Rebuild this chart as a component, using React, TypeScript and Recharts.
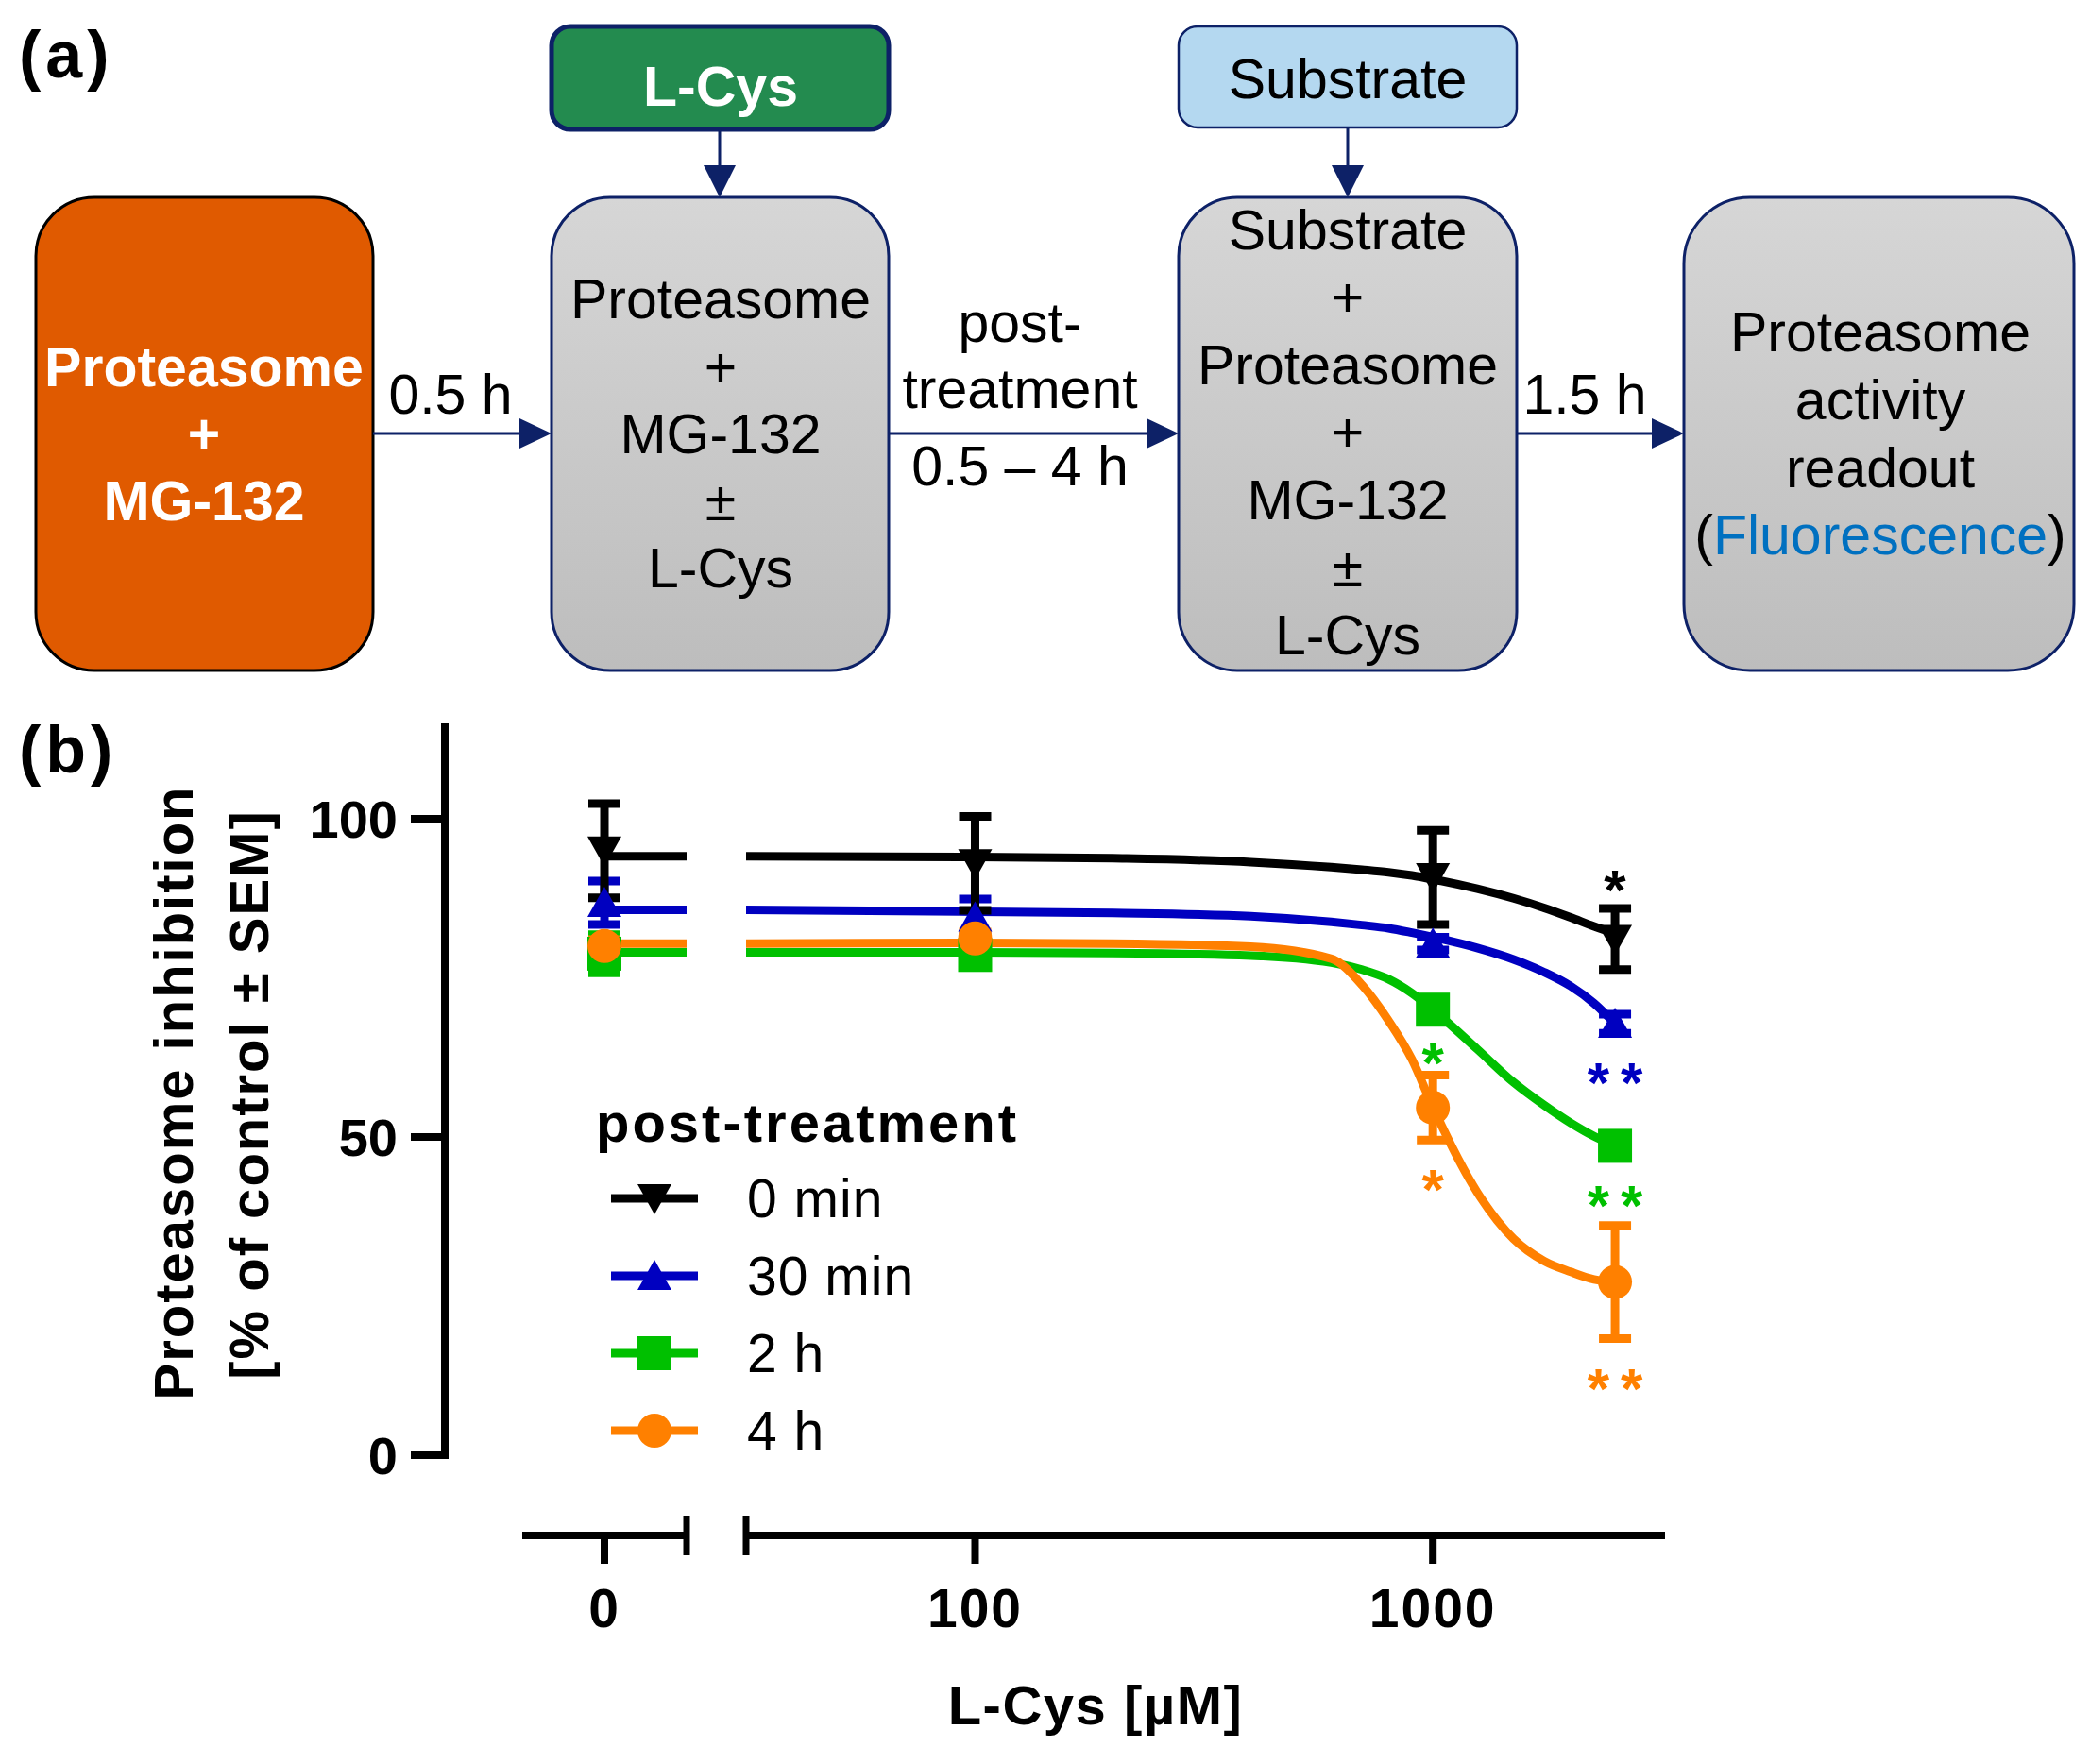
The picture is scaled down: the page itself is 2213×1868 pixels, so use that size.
import React from "react"
import {
  ComposedChart,
  Line,
  Scatter,
  XAxis,
  YAxis,
  ErrorBar,
  ReferenceLine,
  Legend,
  LabelList,
} from "recharts"

const FONT = "'Liberation Sans', Arial, Helvetica, sans-serif"
const NAVY = "#0D2167"

// measured L-Cys concentrations (µM); 0 sits on its own broken-axis segment
const doses = [0, 100, 1000, 2500]

const seriesNames = ["0 min", "30 min", "2 h", "4 h"]
const meanBlack = [95.0, 93.0, 90.8, 81.1]
const semBlack = [7.4, 7.4, 7.4, 4.8]
const meanBlue = [86.8, 84.5, 80.4, 67.8]
const semBlue = [3.4, 2.9, 1.0, 1.5]
const meanGreen = [78.8, 78.6, 70.0, 48.6]
const semGreen = [3.0, 1.2, 0.5, 1.5]
const meanOrange = [80.0, 81.2, 54.6, 27.2]
const semOrange = [1.0, 1.0, 5.1, 8.9]
const sigBlack = ["", "", "", "*"]
const sigBlue = ["", "", "", "**"]
const sigGreen = ["", "", "*", "**"]
const sigOrange = ["", "", "*", "**"]

// fitted curves
const fitDoses = [31.6, 100, 200, 400, 600, 700, 800, 900, 1000, 1250, 1500, 1750, 2000, 2250, 2500]
const fitBlack = [94.1, 94.0, 93.8, 93.2, 92.4, 92.0, 91.6, 91.1, 90.5, 89.0, 87.5, 86.0, 84.5, 83.1, 82.0]
const fitBlue = [85.7, 85.4, 85.2, 84.7, 83.8, 83.3, 82.8, 82.1, 81.4, 79.7, 77.9, 75.9, 73.7, 71.0, 67.8]
const fitGreen = [79.0, 79.0, 78.9, 78.5, 77.4, 76.3, 74.8, 72.6, 70.0, 63.8, 58.6, 55.0, 52.2, 50.1, 48.6]
const fitOrange = [80.4, 80.5, 80.4, 79.9, 78.0, 73.9, 68.3, 62.2, 54.7, 41.3, 34.0, 30.5, 28.8, 27.6, 27.2]

const yTicks = [0, 50, 100]
const logTicks = [100, 1000]
const zeroTicks = [0]

const Y_DOMAIN: [number, number] = [-12.63, 115]
const ZERO_DOMAIN: [number, number] = [-1, 1]
const LOG_DOMAIN: [number, number] = [31.6, 3215]

const series = [
  { name: seriesNames[0], color: "#000000", shape: "down", mean: meanBlack, sem: semBlack, sig: sigBlack, fit: fitBlack, above: true },
  { name: seriesNames[1], color: "#0000C0", shape: "up", mean: meanBlue, sem: semBlue, sig: sigBlue, fit: fitBlue, above: false },
  { name: seriesNames[2], color: "#00C000", shape: "square", mean: meanGreen, sem: semGreen, sig: sigGreen, fit: fitGreen, above: false },
  { name: seriesNames[3], color: "#FF8000", shape: "circle", mean: meanOrange, sem: semOrange, sig: sigOrange, fit: fitOrange, above: false },
]
const drawOrder = [2, 1, 3, 0]

type S = (typeof series)[number]

const points = (s: S) => doses.map((d, i) => ({ x: d, y: s.mean[i], err: s.sem[i], sig: s.sig[i] }))
const zeroPoints = (s: S) => points(s).filter((p) => p.x === 0)
const logPoints = (s: S) => points(s).filter((p) => p.x > 0)
const sigAnchors = (s: S) =>
  logPoints(s)
    .filter((p) => p.sig)
    .map((p) => ({ x: p.x, y: s.above ? p.y + p.err : p.y - p.err, sig: p.sig }))
const fitLine = (s: S) => fitDoses.map((d, i) => ({ x: d, y: s.fit[i] }))
const zeroLine = (s: S) => [
  { x: 0, y: s.fit[0] },
  { x: ZERO_DOMAIN[1], y: s.fit[0] },
]

const Marker = ({ cx, cy, shape, color }: any) => {
  const r = 18
  if (shape === "circle") return <circle cx={cx} cy={cy} r={r} fill={color} />
  if (shape === "square") return <rect x={cx - r} y={cy - r} width={2 * r} height={2 * r} fill={color} />
  if (shape === "up")
    return <polygon points={`${cx - r},${cy + 15} ${cx + r},${cy + 15} ${cx},${cy - 17}`} fill={color} />
  return <polygon points={`${cx - r},${cy - 15} ${cx + r},${cy - 15} ${cx},${cy + 17}`} fill={color} />
}

const renderSig = (color: string, above: boolean) => (props: any) => {
  const { x = 0, y = 0, width = 0, height = 0, value } = props
  if (!value) return null
  const cx = x + width / 2
  const cy = y + height / 2
  const ls = value.length > 1 ? 12 : 0
  return (
    <text
      x={cx + ls / 2}
      y={above ? cy + 1 : cy + 73}
      textAnchor="middle"
      fill={color}
      fontSize={60}
      fontWeight={700}
      letterSpacing={ls}
      fontFamily={FONT}
    >
      {value}
    </text>
  )
}

const renderLegend = () => (
  <div style={{ fontFamily: FONT, color: "#000" }}>
    <div style={{ height: 78, lineHeight: "78px", fontSize: 58, fontWeight: 700, letterSpacing: 3, whiteSpace: "nowrap" }}>
      post-treatment
    </div>
    {series.map((s) => (
      <div key={s.name} style={{ height: 82, display: "flex", alignItems: "center" }}>
        <svg width={108} height={44} style={{ display: "block" }}>
          <line x1={16} x2={108} y1={22} y2={22} stroke={s.color} strokeWidth={9} />
          <Marker cx={62} cy={22} shape={s.shape} color={s.color} />
        </svg>
        <span style={{ marginLeft: 52, fontSize: 57, letterSpacing: 1, whiteSpace: "nowrap" }}>{s.name}</span>
      </div>
    ))}
  </div>
)

const W = 2213
const CHART_TOP = 700
const CHART_H = 1168
const ZERO_PAD = { left: 82, right: 1036 }
// y-axis line sits 82px left of the zero segment (87px per zero-axis unit)
const Y_AXIS_X = ZERO_DOMAIN[0] - ZERO_PAD.left / 87
const BREAK = 3.12
const CURVE_W = 9

const tickStyle = { fontSize: 57, fontWeight: 700, fill: "#000", fontFamily: FONT, letterSpacing: 2 }
const yTickStyle = { fontSize: 56, fontWeight: 700, fill: "#000", fontFamily: FONT }
const tickLine = { stroke: "#000", strokeWidth: 8 }

const ZeroChart = () => (
  <ComposedChart width={W} height={CHART_H} margin={{ top: 66, right: 450, bottom: 0, left: 321 }}>
    <XAxis
      type="number"
      dataKey="x"
      domain={ZERO_DOMAIN}
      allowDataOverflow
      ticks={zeroTicks}
      interval={0}
      padding={ZERO_PAD}
      height={242}
      axisLine={false}
      tickLine={tickLine}
      tickSize={30}
      tickMargin={27}
      tick={tickStyle}
    />
    <YAxis
      type="number"
      dataKey="y"
      domain={Y_DOMAIN}
      allowDataOverflow
      ticks={yTicks}
      interval={0}
      width={150}
      axisLine={false}
      tickLine={tickLine}
      tickSize={36}
      tickMargin={14}
      tick={yTickStyle}
    />
    <ReferenceLine
      segment={[{ x: Y_AXIS_X, y: -0.6 }, { x: Y_AXIS_X, y: Y_DOMAIN[1] }]}
      stroke="#000"
      strokeWidth={8}
      ifOverflow="visible"
    />
    <ReferenceLine
      segment={[{ x: ZERO_DOMAIN[0], y: Y_DOMAIN[0] }, { x: ZERO_DOMAIN[1], y: Y_DOMAIN[0] }]}
      stroke="#000"
      strokeWidth={8}
      ifOverflow="visible"
    />
    <ReferenceLine
      segment={[{ x: ZERO_DOMAIN[1], y: Y_DOMAIN[0] + BREAK }, { x: ZERO_DOMAIN[1], y: Y_DOMAIN[0] - BREAK }]}
      stroke="#000"
      strokeWidth={7}
      ifOverflow="visible"
    />
    {drawOrder.map((i) => (
      <Line
        key={`zl${i}`}
        data={zeroLine(series[i])}
        dataKey="y"
        type="linear"
        stroke={series[i].color}
        strokeWidth={CURVE_W}
        dot={false}
        isAnimationActive={false}
      />
    ))}
    {drawOrder.map((i) => (
      <Scatter
        key={`zs${i}`}
        data={zeroPoints(series[i])}
        dataKey="y"
        isAnimationActive={false}
        shape={(p: any) => <Marker cx={p.cx} cy={p.cy} shape={series[i].shape} color={series[i].color} />}
      >
        <ErrorBar dataKey="err" direction="y" width={17} stroke={series[i].color} strokeWidth={9} isAnimationActive={false} />
      </Scatter>
    ))}
  </ComposedChart>
)

const LogChart = () => (
  <ComposedChart width={W} height={CHART_H} margin={{ top: 66, right: 450, bottom: 0, left: 790 }}>
    <XAxis
      type="number"
      dataKey="x"
      scale="log"
      domain={LOG_DOMAIN}
      allowDataOverflow
      ticks={logTicks}
      interval={0}
      height={242}
      axisLine={{ stroke: "#000", strokeWidth: 8 }}
      tickLine={tickLine}
      tickSize={30}
      tickMargin={27}
      tick={tickStyle}
    />
    <YAxis type="number" dataKey="y" domain={Y_DOMAIN} allowDataOverflow hide />
    <ReferenceLine
      segment={[{ x: LOG_DOMAIN[0], y: Y_DOMAIN[0] + BREAK }, { x: LOG_DOMAIN[0], y: Y_DOMAIN[0] - BREAK }]}
      stroke="#000"
      strokeWidth={7}
      ifOverflow="visible"
    />
    {drawOrder.map((i) => (
      <Line
        key={`fl${i}`}
        data={fitLine(series[i])}
        dataKey="y"
        type="monotone"
        stroke={series[i].color}
        strokeWidth={CURVE_W}
        dot={false}
        isAnimationActive={false}
      />
    ))}
    {drawOrder.map((i) => (
      <Scatter
        key={`ls${i}`}
        data={logPoints(series[i])}
        dataKey="y"
        isAnimationActive={false}
        shape={(p: any) => <Marker cx={p.cx} cy={p.cy} shape={series[i].shape} color={series[i].color} />}
      >
        <ErrorBar dataKey="err" direction="y" width={17} stroke={series[i].color} strokeWidth={9} isAnimationActive={false} />
      </Scatter>
    ))}
    {drawOrder.map((i) => (
      <Scatter
        key={`sig${i}`}
        data={sigAnchors(series[i])}
        dataKey="y"
        isAnimationActive={false}
        shape={() => <g />}
      >
        <LabelList dataKey="sig" content={renderSig(series[i].color, series[i].above)} />
      </Scatter>
    ))}
    <Legend
      layout="vertical"
      align="center"
      verticalAlign="middle"
      wrapperStyle={{ left: 631, top: 450, width: 600 }}
      content={renderLegend}
    />
  </ComposedChart>
)

const Arrow = ({ x1, y1, x2, y2 }: { x1: number; y1: number; x2: number; y2: number }) => {
  const h = 34
  const w = 16
  if (y1 === y2)
    return (
      <g>
        <line x1={x1} y1={y1} x2={x2 - h} y2={y2} stroke={NAVY} strokeWidth={3} />
        <polygon points={`${x2 - h},${y2 - w} ${x2},${y2} ${x2 - h},${y2 + w}`} fill={NAVY} />
      </g>
    )
  return (
    <g>
      <line x1={x1} y1={y1} x2={x2} y2={y2 - h} stroke={NAVY} strokeWidth={3} />
      <polygon points={`${x2 - w - 1},${y2 - h} ${x2},${y2} ${x2 + w + 1},${y2 - h}`} fill={NAVY} />
    </g>
  )
}

const Lines = ({ x, ys, lines, bold = false, fill = "#000" }: any) => (
  <g>
    {lines.map((t: React.ReactNode, i: number) => (
      <text key={i} x={x} y={ys[i]} textAnchor="middle" fontSize={59} fontWeight={bold ? 700 : 400} fill={fill}>
        {t}
      </text>
    ))}
  </g>
)

const Diagram = () => (
  <svg width={W} height={1868} style={{ position: "absolute", left: 0, top: 0, fontFamily: FONT }}>
    <defs>
      <linearGradient id="grayFill" x1="0" y1="0" x2="0" y2="1">
        <stop offset="0" stopColor="#D6D6D6" />
        <stop offset="1" stopColor="#BDBDBD" />
      </linearGradient>
    </defs>
    <text x={20} y={82} fontSize={70} fontWeight={700} letterSpacing={5}>(a)</text>
    <text x={20} y={818} fontSize={70} fontWeight={700} letterSpacing={5}>(b)</text>

    <rect x={38} y={209} width={357} height={501} rx={62} fill="#E05A00" stroke="#000" strokeWidth={3} />
    <rect x={584} y={209} width={357} height={501} rx={62} fill="url(#grayFill)" stroke={NAVY} strokeWidth={3} />
    <rect x={1248} y={209} width={358} height={501} rx={62} fill="url(#grayFill)" stroke={NAVY} strokeWidth={3} />
    <rect x={1783} y={209} width={413} height={501} rx={70} fill="url(#grayFill)" stroke={NAVY} strokeWidth={3} />
    <rect x={584} y={28} width={357} height={109} rx={20} fill="#238B4F" stroke={NAVY} strokeWidth={5} />
    <rect x={1248} y={28} width={358} height={107} rx={20} fill="#B4D8F0" stroke={NAVY} strokeWidth={2.5} />

    <Arrow x1={395} y1={459} x2={584} y2={459} />
    <Arrow x1={941} y1={459} x2={1248} y2={459} />
    <Arrow x1={1606} y1={459} x2={1783} y2={459} />
    <Arrow x1={762} y1={137} x2={762} y2={209} />
    <Arrow x1={1427} y1={135} x2={1427} y2={209} />

    <Lines x={763} ys={[112]} lines={["L-Cys"]} bold fill="#fff" />
    <Lines x={1427} ys={[104]} lines={["Substrate"]} />
    <Lines x={216} ys={[409, 480, 551]} lines={["Proteasome", "+", "MG-132"]} bold fill="#fff" />
    <Lines x={763} ys={[337, 409, 480, 551, 622]} lines={["Proteasome", "+", "MG-132", "±", "L-Cys"]} />
    <Lines
      x={1427}
      ys={[264, 335, 407, 478, 550, 621, 693]}
      lines={["Substrate", "+", "Proteasome", "+", "MG-132", "±", "L-Cys"]}
    />
    <Lines
      x={1991}
      ys={[372, 444, 516, 587]}
      lines={[
        "Proteasome",
        "activity",
        "readout",
        <>
          (<tspan fill="#0070C0">Fluorescence</tspan>)
        </>,
      ]}
    />
    <Lines x={477} ys={[438]} lines={["0.5 h"]} />
    <Lines x={1080} ys={[362, 432, 514]} lines={["post-", "treatment", "0.5 – 4 h"]} />
    <Lines x={1678} ys={[438]} lines={["1.5 h"]} />

    <g fontSize={58} fontWeight={700} letterSpacing={2} textAnchor="middle">
      <text transform="translate(204,1157) rotate(-90)">Proteasome inhibition</text>
      <text transform="translate(284,1159) rotate(-90)">[% of control ± SEM]</text>
      <text x={1160} y={1826} letterSpacing={1.5}>L-Cys [µM]</text>
    </g>
  </svg>
)

export default function App() {
  return (
    <div style={{ position: "absolute", left: 0, top: 0, width: W, height: 1868, background: "#fff", fontFamily: FONT }}>
      <Diagram />
      <div style={{ position: "absolute", left: 0, top: CHART_TOP }}>
        <ZeroChart />
      </div>
      <div style={{ position: "absolute", left: 0, top: CHART_TOP }}>
        <LogChart />
      </div>
    </div>
  )
}
